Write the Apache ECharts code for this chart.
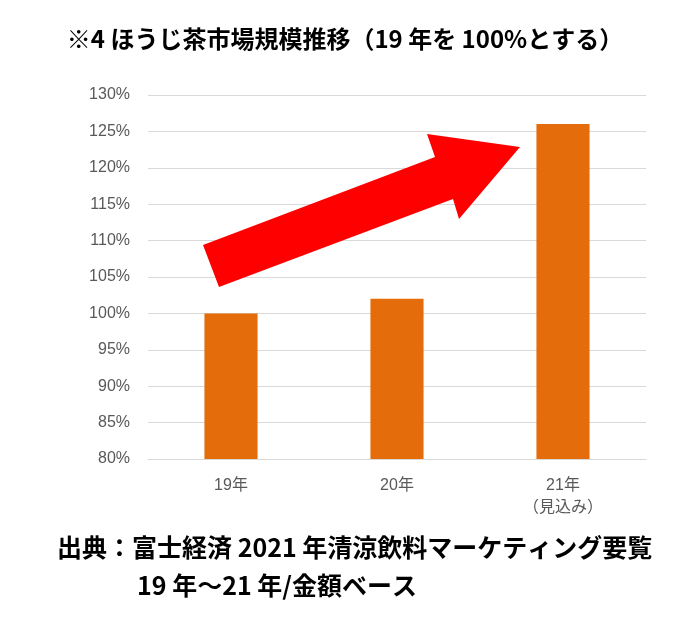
<!DOCTYPE html>
<html>
<head>
<meta charset="utf-8">
<script src="https://cdn.jsdelivr.net/npm/echarts@6/dist/echarts.min.js"></script>
<style>
  html, body { margin: 0; padding: 0; background: #fff; }
  #main { width: 690px; height: 630px; }
</style>
</head>
<body>
<div id="main"></div>
<script>
// ほうじ茶市場規模推移 (19年=100%)
var categories = ['19年', '20年', '21年\n（見込み）']
var marketIndex = [100, 102, 126]
var yTicks = [80, 85, 90, 95, 100, 105, 110, 115, 120, 125, 130]

var titleText = '※4 ほうじ茶市場規模推移（19 年を 100%とする）'
var sourceLine1 = '出典：富士経済 2021 年清涼飲料マーケティング要覧'
var sourceLine2 = '19 年～21 年/金額ベース'

var jpFont = '"Noto Sans CJK JP", sans-serif'
var labelFont = '"Liberation Sans", "Noto Sans CJK JP", sans-serif'

var mychart = echarts.init(document.getElementById('main'))

var option = {
    backgroundColor: '#ffffff',
    animation: false,
    grid: {
        left: 148,
        right: 44,
        top: 95,
        bottom: 171
    },
    xAxis: {
        type: 'category',
        data: categories,
        axisLine: { lineStyle: { color: '#d9d9d9' } },
        axisTick: { show: false },
        axisLabel: {
            color: '#595959',
            fontSize: 16,
            lineHeight: 22,
            margin: 16,
            fontFamily: labelFont
        }
    },
    yAxis: {
        type: 'value',
        min: yTicks[0],
        max: yTicks[yTicks.length - 1],
        interval: 5,
        axisLine: { show: false },
        axisTick: { show: false },
        splitLine: { lineStyle: { color: '#d9d9d9', width: 1 } },
        axisLabel: {
            color: '#595959',
            fontSize: 16,
            margin: 18,
            fontFamily: labelFont,
            formatter: function (v) { return v + '%' }
        }
    },
    series: [{
        type: 'bar',
        data: marketIndex,
        barWidth: '32%',
        itemStyle: { color: '#E46C0A' }
    }],
    graphic: [
        {
            type: 'text',
            left: 'center',
            top: 27,
            style: {
                text: titleText,
                fill: '#000',
                font: 'bold 24px ' + jpFont
            }
        },
        {
            /* 赤い上昇矢印 */
            type: 'polygon',
            shape: {
                points: [[203, 245], [435, 157], [427, 134], [520, 147], [459, 219], [453, 199], [219, 287]]
            },
            style: { fill: '#ff0000' },
            z: 10
        },
        {
            type: 'text',
            left: 57,
            top: 535,
            style: {
                text: sourceLine1,
                fill: '#000',
                font: 'bold 25px ' + jpFont
            }
        },
        {
            type: 'text',
            left: 137,
            top: 573,
            style: {
                text: sourceLine2,
                fill: '#000',
                font: 'bold 25px ' + jpFont
            }
        }
    ]
}

mychart.setOption(option)
</script>
</body>
</html>
